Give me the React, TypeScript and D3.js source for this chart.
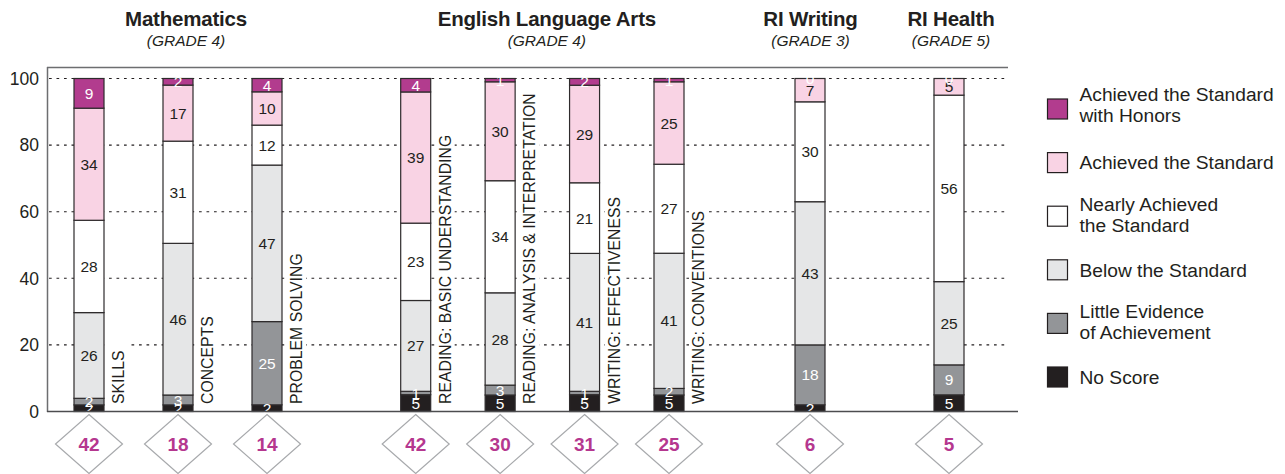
import React, { useEffect, useRef } from "react";
import * as d3 from "d3";

// subject groups
const groups = ["Mathematics", "English Language Arts", "RI Writing", "RI Health"];
const grades = ["(GRADE 4)", "(GRADE 4)", "(GRADE 3)", "(GRADE 5)"];

// one entry per bar
const categories = [
  "SKILLS",
  "CONCEPTS",
  "PROBLEM SOLVING",
  "READING: BASIC UNDERSTANDING",
  "READING: ANALYSIS & INTERPRETATION",
  "WRITING: EFFECTIVENESS",
  "WRITING: CONVENTIONS",
  "RI WRITING",
  "RI HEALTH",
];
const categoryLabels = [
  "SKILLS",
  "CONCEPTS",
  "PROBLEM SOLVING",
  "READING: BASIC UNDERSTANDING",
  "READING: ANALYSIS & INTERPRETATION",
  "WRITING: EFFECTIVENESS",
  "WRITING: CONVENTIONS",
  "",
  "",
];
const categoryGroup = [0, 0, 0, 1, 1, 1, 1, 2, 3];

// percent of students per level (bottom to top)
const noScore = [2, 2, 2, 5, 5, 5, 5, 2, 5];
const littleEvidence = [2, 3, 25, 1, 3, 1, 2, 18, 9];
const belowStandard = [26, 46, 47, 27, 28, 41, 41, 43, 25];
const nearlyAchieved = [28, 31, 12, 23, 34, 21, 27, 30, 56];
const achieved = [34, 17, 10, 39, 30, 29, 25, 7, 5];
const withHonors = [9, 2, 4, 4, 1, 2, 1, 0, 0];

// number of students tested
const studentCounts = [42, 18, 14, 42, 30, 31, 25, 6, 5];

const levelKeys = ["noScore", "little", "below", "nearly", "achieved", "honors"];
const levelSeries = [noScore, littleEvidence, belowStandard, nearlyAchieved, achieved, withHonors];
const levelNames = [
  ["No Score"],
  ["Little Evidence", "of Achievement"],
  ["Below the Standard"],
  ["Nearly Achieved", "the Standard"],
  ["Achieved the Standard"],
  ["Achieved the Standard", "with Honors"],
];
const yTicks = [0, 20, 40, 60, 80, 100];

// styling / layout (not data)
const fills = ["#231f20", "#939598", "#e5e6e7", "#ffffff", "#f9d3e4", "#b23c8e"];
const labelFills = ["#ffffff", "#ffffff", "#231f20", "#231f20", "#231f20", "#ffffff"];
const groupCenters = [[89, 267], [415.7, 669], [810, 810], [949, 949]];
const headerShift = [8, 4.5, 0.5, 2];
const W = 1285;
const H = 474;
const BAR_W = 30;
const FONT = "'Liberation Sans', Arial, Helvetica, sans-serif";
const INK = "#231f20";

export default function App() {
  const ref = useRef<SVGSVGElement>(null);

  useEffect(() => {
    const svg = d3.select(ref.current);
    svg.selectAll("*").remove();

    const y = d3.scaleLinear().domain([0, 100]).range([411.5, 78.5]);
    const yFrac = d3.scaleLinear().domain([0, 1]).range([411.5, 78.5]);

    const groupScales = groupCenters.map((r, gi) =>
      d3
        .scalePoint<string>()
        .domain(categories.filter((_, i) => categoryGroup[i] === gi))
        .range(r as [number, number])
    );
    const xc = (i: number) => groupScales[categoryGroup[i]](categories[i]) as number;

    // frame
    svg.append("line").attr("x1", 47).attr("x2", 1008).attr("y1", 67.5).attr("y2", 67.5)
      .attr("stroke", "#6d6e70").attr("stroke-width", 1.5);
    svg.append("line").attr("x1", 47.5).attr("x2", 47.5).attr("y1", 67).attr("y2", 412)
      .attr("stroke", "#6d6e70").attr("stroke-width", 1.5);

    // gridlines
    svg.append("g").selectAll("line").data(yTicks.filter((t) => t > 0)).join("line")
      .attr("x1", 49).attr("x2", 1006)
      .attr("y1", (d) => y(d)).attr("y2", (d) => y(d))
      .attr("stroke", INK).attr("stroke-width", 1.1).attr("stroke-dasharray", "2.7 4.8");

    // y tick labels
    svg.append("g").selectAll("text").data(yTicks).join("text")
      .attr("x", 39).attr("y", (d) => y(d)).attr("dy", "0.36em")
      .attr("text-anchor", "end").attr("font-size", 17.5).attr("fill", INK)
      .text((d) => d);

    // rotated category labels with white background
    categoryLabels.forEach((lab, i) => {
      if (!lab) return;
      const g = svg.append("g")
        .attr("transform", `translate(${xc(i) + BAR_W / 2 + 20},404) rotate(-90)`);
      const t = g.append("text").attr("font-size", 15.8).attr("fill", INK).text(lab);
      const len = (t.node() as SVGTextElement).getComputedTextLength();
      g.insert("rect", "text").attr("x", -4).attr("y", -15).attr("width", len + 12)
        .attr("height", 19).attr("fill", "#fff");
    });

    // stacked bars
    const rows = categories.map((c, i) => {
      const r: any = { cat: c, i };
      levelKeys.forEach((k, li) => (r[k] = levelSeries[li][i]));
      return r;
    });
    const stacked = d3.stack<any>().keys(levelKeys).offset(d3.stackOffsetExpand)(rows);

    const bars = svg.append("g");
    stacked.forEach((layer, li) => {
      bars.selectAll(null).data(layer).join("rect")
        .attr("x", (d) => xc(d.data.i) - BAR_W / 2)
        .attr("width", BAR_W)
        .attr("y", (d) => yFrac(d[1]))
        .attr("height", (d) => yFrac(d[0]) - yFrac(d[1]))
        .attr("fill", fills[li])
        .attr("stroke", "#2e2b2c")
        .attr("stroke-width", 1.2);
    });
    const labels = svg.append("g").attr("font-size", 15.5).attr("text-anchor", "middle");
    stacked.forEach((layer, li) => {
      labels.selectAll(null).data(layer).join("text")
        .attr("x", (d) => xc(d.data.i))
        .attr("y", (d) => (yFrac(d[0]) + yFrac(d[1])) / 2)
        .attr("dy", "0.36em")
        .attr("fill", labelFills[li])
        .text((d) => levelSeries[li][d.data.i]);
    });

    // bottom axis line
    svg.append("line").attr("x1", 47).attr("x2", 1018).attr("y1", 411.5).attr("y2", 411.5)
      .attr("stroke", "#4d4d4f").attr("stroke-width", 1.5);

    // group headers
    const head = svg.append("g").attr("text-anchor", "middle").attr("fill", INK);
    groups.forEach((g, gi) => {
      const cx = (groupCenters[gi][0] + groupCenters[gi][1]) / 2 + headerShift[gi];
      head.append("text").attr("x", cx).attr("y", 26).attr("font-size", 20.5)
        .attr("font-weight", "bold").attr("letter-spacing", -0.2).text(g);
      head.append("text").attr("x", cx).attr("y", 46).attr("font-size", 15.5)
        .attr("font-style", "italic").text(grades[gi]);
    });

    // diamonds with student counts
    const diamond = d3.line()([[0, -29.5], [33.5, 0], [0, 29.5], [-33.5, 0]]) + "Z";
    const dg = svg.append("g").selectAll("g").data(studentCounts).join("g")
      .attr("transform", (_, i) => `translate(${xc(i)},444)`);
    dg.append("path").attr("d", diamond).attr("fill", "#fff").attr("stroke", "#a7a9ac").attr("stroke-width", 1.2);
    dg.append("text").attr("text-anchor", "middle").attr("dy", "0.36em").attr("font-size", 19)
      .attr("font-weight", "bold").attr("fill", "#b5378f").text((d) => d);

    // legend
    const ly = d3.scalePoint<number>().domain([5, 4, 3, 2, 1, 0]).range([109, 377]);
    const leg = svg.append("g").selectAll("g").data([5, 4, 3, 2, 1, 0]).join("g")
      .attr("transform", (d) => `translate(1047.5,${ly(d)})`);
    leg.append("rect").attr("x", 0).attr("y", -10).attr("width", 20).attr("height", 20)
      .attr("fill", (d) => fills[d]).attr("stroke", INK).attr("stroke-width", 1.2);
    leg.each(function (d) {
      const lines = levelNames[d];
      const t = d3.select(this).append("text").attr("font-size", 19.2).attr("fill", INK);
      lines.forEach((ln, k) => {
        const top = d === 5 ? -8.5 : -5.5;
        const base = lines.length === 1 ? 6.8 : k === 0 ? top : top + 21;
        t.append("tspan").attr("x", 32).attr("y", base).text(ln);
      });
    });
  }, []);

  return (
    <svg
      ref={ref}
      width={W}
      height={H}
      style={{ position: "absolute", left: 0, top: 0, background: "#fff", fontFamily: FONT }}
    />
  );
}
